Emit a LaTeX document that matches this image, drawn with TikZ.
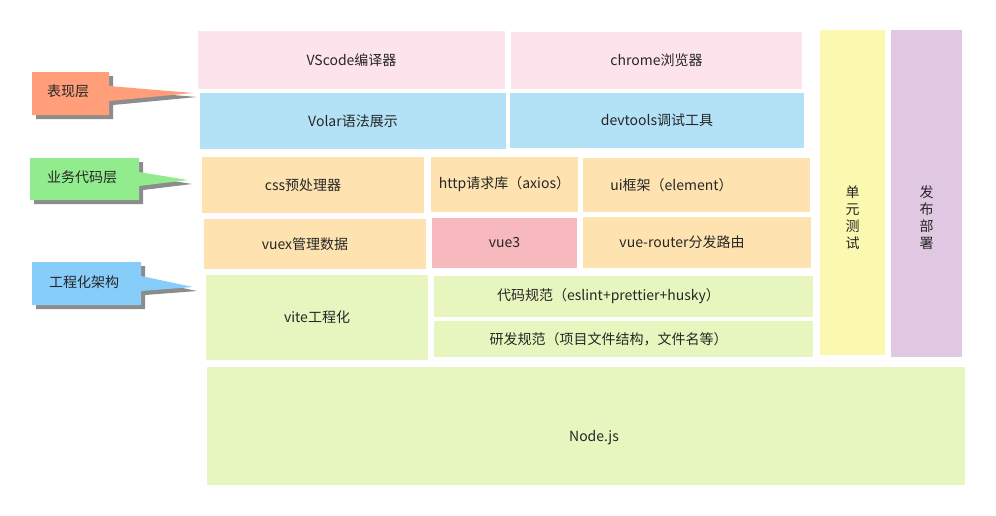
\documentclass[tikz,border=0pt]{standalone}
\usepackage{fontspec}
\setmainfont{Noto Sans CJK SC}
\definecolor{cpink}{HTML}{FDE4EC}
\definecolor{cblue}{HTML}{B3E2F7}
\definecolor{corange}{HTML}{FEE2B0}
\definecolor{cred}{HTML}{F8B9BE}
\definecolor{cgreen}{HTML}{E7F6BE}
\definecolor{cyellow}{HTML}{FBF8B0}
\definecolor{cpurple}{HTML}{E0C7E2}
\definecolor{tagA}{HTML}{FF9E79}
\definecolor{tagB}{HTML}{91EC8E}
\definecolor{tagC}{HTML}{86CDFA}
\tikzset{
  blk/.style={inner sep=0pt,font=\fontsize{14}{17}\selectfont,text=black!85},
  tagshadow/.style={fill=black,opacity=0.45,shift={(4,4)}}
}
\newcommand{\blkbox}[6]{%
  \fill[#1] (#2,#3) rectangle (#4,#5);
  \node[blk] at ({(#2+#4)/2},{(#3+#5)/2}) {#6};}
\begin{document}
\begin{tikzpicture}[x=1pt,y=-1pt]
\useasboundingbox (0,0) rectangle (996,515);
% 表现层
\blkbox{cpink}{198}{31}{505}{89}{VScode编译器}
\blkbox{cpink}{511}{32}{802}{89}{chrome浏览器}
\blkbox{cblue}{200}{93}{506}{149}{Volar语法展示}
\blkbox{cblue}{510}{93}{804}{148}{devtools调试工具}
% 业务代码层
\blkbox{corange}{202}{157}{424}{213}{\hspace*{-20pt}css预处理器}
\blkbox{corange}{431}{157}{578}{212}{http请求库（axios）}
\blkbox{corange}{583}{158}{810}{212}{\hspace*{-50pt}ui框架（element）}
\blkbox{corange}{204}{219}{426}{269}{\hspace*{-20pt}vuex管理数据}
\blkbox{cred}{432}{218}{577}{268}{vue3}
\blkbox{corange}{583}{217}{811}{268}{\hspace*{-30pt}vue-router分发路由}
% 工程化架构
\blkbox{cgreen}{206}{275}{428}{360}{vite工程化}
\blkbox{cgreen}{434}{276}{813}{317}{\hspace*{-30pt}代码规范（eslint+prettier+husky）}
\blkbox{cgreen}{434}{321}{813}{357}{\hspace*{-30pt}研发规范（项目文件结构，文件名等）}
\fill[cgreen] (207,367) rectangle (965,485);
\node[blk] (node) at (594,438) {Node.js};
% 右侧
\fill[cyellow] (820,30) rectangle (885,355);
\node[blk,align=center] (test) at (852.5,218) {单\\元\\测\\试};
\fill[cpurple] (891,30) rectangle (962,357);
\node[blk,align=center] (deploy) at (926.5,218) {发\\布\\部\\署};
% 标签
\def\tagA{(32,72) -- (109,72) -- (109,86) -- (193,93) -- (109,101) -- (109,115) -- (32,115) -- cycle}
\def\tagB{(30,158) -- (139,158) -- (139,172) -- (188,180) -- (139,186) -- (139,200) -- (30,200) -- cycle}
\def\tagC{(32,262) -- (141,262) -- (141,276) -- (193,287) -- (141,291) -- (141,305) -- (32,305) -- cycle}
\fill[tagshadow] \tagA; \fill[tagA] \tagA;
\fill[tagshadow] \tagB; \fill[tagB] \tagB;
\fill[tagshadow] \tagC; \fill[tagC] \tagC;
\node[blk] (layA) at (68,91) {表现层};
\node[blk] (layB) at (82,177) {业务代码层};
\node[blk] (layC) at (84,282) {工程化架构};
\end{tikzpicture}
\end{document}
